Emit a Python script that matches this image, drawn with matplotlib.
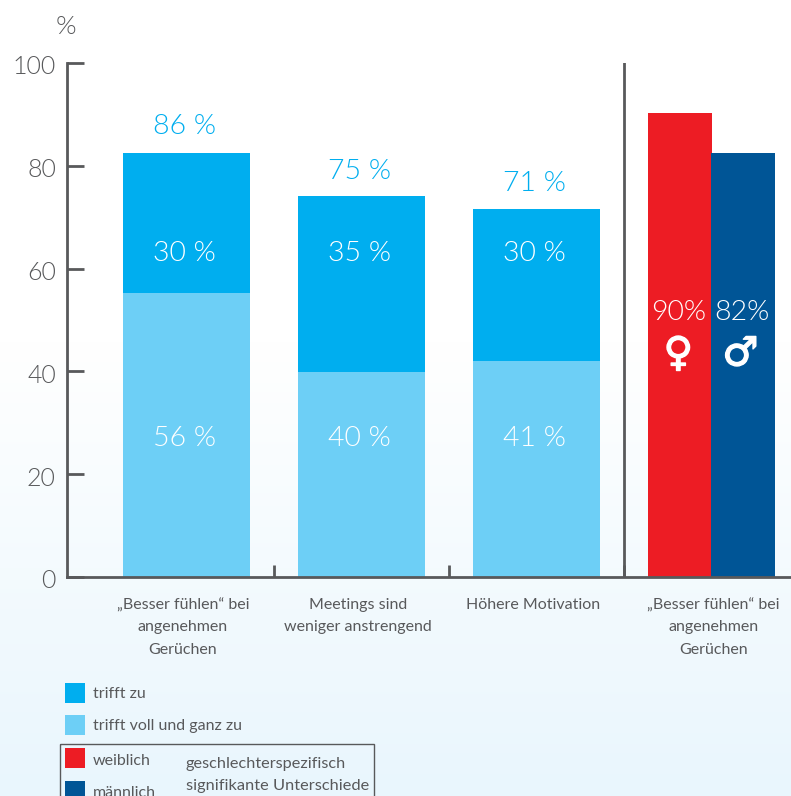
import numpy as np
import matplotlib
matplotlib.use('Agg')
import matplotlib.pyplot as plt
from matplotlib.patches import Rectangle
from matplotlib.transforms import ScaledTranslation
import matplotlib.patheffects as pe

plt.rcParams['font.family'] = ['Lato', 'DejaVu Sans']

# Data
categories = ['„Besser fühlen“ bei\nangenehmen\nGerüchen',
              'Meetings sind\nweniger anstrengend',
              'Höhere Motivation',
              '„Besser fühlen“ bei\nangenehmen\nGerüchen']
voll_zu = [55.2, 39.9, 42]
zu = [27.3, 34.2, 29.6]
voll_labels = ['56 %', '40 %', '41 %']
zu_labels = ['30 %', '35 %', '30 %']
total_labels = ['86 %', '75 %', '71 %']
weiblich = 90.3
maennlich = 82.5
yticks = [0, 20, 40, 60, 80, 100]

c_zu = '#00aeef'
c_voll = '#6dcff6'
c_w = '#ed1c24'
c_m = '#005596'
grey = '#58595b'

fig = plt.figure(figsize=(7.91, 7.96), dpi=100)

# background gradient and legend live on a pixel sized axes
bg = fig.add_axes([0, 0, 1, 1])
grad = np.concatenate([np.zeros(340), np.linspace(0, 1, 456)]).reshape(-1, 1)
bg.imshow(grad, extent=(0, 791, 796, 0), aspect='auto',
          cmap=matplotlib.colors.LinearSegmentedColormap.from_list('g', ['#ffffff', '#e9f6fd']))
bg.set_xlim(0, 791)
bg.set_ylim(796, 0)
bg.axis('off')

for y, c in zip([683, 715, 748, 781], [c_zu, c_voll, c_w, c_m]):
    bg.add_patch(Rectangle((65, y), 20, 20, color=c, lw=0))
bg.add_patch(Rectangle((59.5, 744), 314, 70, fill=False, ec=grey, lw=1))
for y, s in zip([694, 726, 761, 793], ['trifft zu', 'trifft voll und ganz zu', 'weiblich', 'männlich']):
    bg.text(93, y, s, color=grey, fontsize=11.5, va='center')
bg.text(186, 764, 'geschlechterspezifisch', color=grey, fontsize=11.7, va='center')
bg.text(186, 786, 'signifikante Unterschiede', color=grey, fontsize=11.8, va='center')
bg.text(66, 27, '%', color=grey, fontsize=19, ha='center', va='center', weight=300)

# main chart
ax = fig.add_axes([67 / 791, (796 - 577) / 796, (791 - 67) / 791, 514 / 796])
ax.patch.set_alpha(0)
x = np.arange(3)
ax.bar(x, voll_zu, width=0.726, color=c_voll)
ax.bar(x, zu, width=0.726, bottom=voll_zu, color=c_zu)
ax.bar(3 - 0.18, weiblich, width=0.363, color=c_w)
ax.bar(3 + 0.18, maennlich, width=0.363, color=c_m)
ax.set_xlim(-0.683, 3.454)
ax.set_ylim(0, 100)

# label rows sit at fixed heights in the original
low_y = 26.9
mid_y = 63.0
total_y = [87.6, 78.8, 76.6]
for i in x:
    ax.text(i - 0.014, low_y, voll_labels[i], color='white', fontsize=20.5, ha='center', va='center', weight=300)
    ax.text(i - 0.014, mid_y, zu_labels[i], color='white', fontsize=20.5, ha='center', va='center', weight=300)
    ax.text(i - 0.014, total_y[i], total_labels[i], color=c_zu, fontsize=20.5, ha='center', va='center', weight=300)

ax.text(3 - 0.19, 51.4, '90%', color='white', fontsize=20.5, ha='center', va='center', weight=300)
ax.text(3 + 0.175, 51.4, '82%', color='white', fontsize=20.5, ha='center', va='center', weight=300)
ax.text(3 - 0.19, 43.3, '♀', color='white', fontsize=29, ha='center', va='center', family='DejaVu Sans', weight='bold',
        path_effects=[pe.withStroke(linewidth=1, foreground='white')])
ax.text(3 + 0.165, 43.3, '♂', color='white', fontsize=29, ha='center', va='center', family='DejaVu Sans', weight='bold',
        path_effects=[pe.withStroke(linewidth=1, foreground='white')])

ax.spines['top'].set_visible(False)
ax.spines['right'].set_visible(False)
for s in ['left', 'bottom']:
    ax.spines[s].set_color(grey)
    ax.spines[s].set_linewidth(2)
ax.axvline(2.5, color=grey, lw=2)

ax.set_yticks(yticks)
ax.tick_params(axis='y', direction='in', length=12, width=2, color=grey, labelcolor=grey,
               labelsize=18, pad=8)
shift = ScaledTranslation(0, -2 / 100, fig.dpi_scale_trans)
for t in ax.get_yticklabels():
    t.set_transform(t.get_transform() + shift)
    t.set_fontweight(300)
ax.set_xticks([0.5, 1.5, 2.5])
ax.set_xticklabels([])
ax.tick_params(axis='x', direction='in', length=9, width=2, color=grey)
for i, lab in enumerate(categories):
    ax.annotate(lab, (i + (0.01 if i == 3 else -0.02), 0), xytext=(0, -15), textcoords='offset points',
                color=grey, fontsize=11.5, ha='center', va='top', linespacing=1.75)

fig.savefig('out.png', dpi=100)
